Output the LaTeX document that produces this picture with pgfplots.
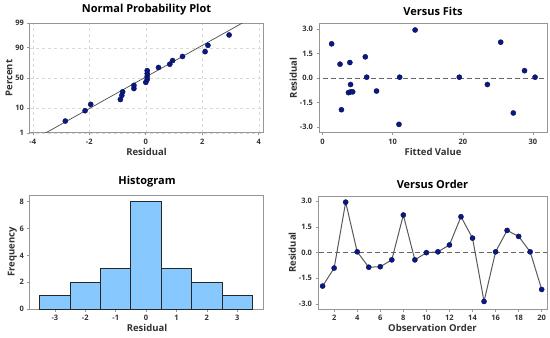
\documentclass[border=0pt]{standalone}
\usepackage{pgfplots}
\pgfplotsset{compat=1.18}
\usepackage{fontspec}
\setmainfont{Open Sans}
\definecolor{frame}{RGB}{150,150,150}
\definecolor{pt}{RGB}{10,25,130}
\definecolor{ptb}{RGB}{0,10,80}
\definecolor{hist}{RGB}{135,200,255}
\definecolor{txt}{RGB}{50,50,50}
\pgfplotsset{
  mini/.style={
    scale only axis,
    axis line style={frame, line width=1pt},
    tick align=outside,
    major tick length=2.5pt,
    tick style={frame, line width=0.6pt},
    xtick pos=bottom, ytick pos=left,
    tick label style={font=\fontsize{7.5}{8}\selectfont\bfseries, text=txt},
    label style={font=\fontsize{9.5}{11}\selectfont\bfseries, text=txt},
    title style={font=\fontsize{11}{12}\selectfont\bfseries, text=black, yshift=-2pt},
    /pgf/number format/assume math mode=true,
    clip=true,
  },
  dots/.style={only marks, mark=*, mark size=2.6pt, mark options={fill=pt, draw=ptb, line width=0.3pt}},
}
\begin{document}
\begin{tikzpicture}
% Normal probability plot
\begin{axis}[mini, at={(30pt,205pt)}, anchor=south west, width=233pt, height=110pt,
  title={Normal Probability Plot}, xlabel={Residual}, ylabel={Percent},
  xmin=-4.1, xmax=4.15, ymin=-2.3263, ymax=2.3263,
  xtick={-4,-2,0,2,4},
  ytick={-2.3263,-1.2816,0,1.2816,2.3263}, yticklabels={1,10,50,90,99},
  grid=major, major grid style={dash pattern=on 3pt off 3pt, gray!30},
  xlabel style={yshift=3pt}, ylabel style={yshift=-4pt}]
\addplot[black!70, line width=0.7pt] coordinates {(-3.55,-2.3263) (3.42,2.3263)};
\addplot[dots] coordinates {
(-2.85,-1.820) (-2.15,-1.383) (-1.95,-1.115) (-0.9,-0.910) (-0.85,-0.737)
(-0.82,-0.584) (-0.42,-0.445) (-0.42,-0.312) (0.0,-0.185) (0.05,-0.061)
(0.05,0.061) (0.05,0.185) (0.05,0.312) (0.45,0.445) (0.85,0.584)
(0.95,0.737) (1.3,0.910) (2.1,1.115) (2.2,1.383) (2.95,1.820)};
\end{axis}
% Versus fits
\begin{axis}[mini, at={(319pt,205pt)}, anchor=south west, width=228pt, height=110pt,
  title={Versus Fits}, xlabel={Fitted Value}, ylabel={Residual},
  xmin=-0.5, xmax=32, ymin=-3.38, ymax=3.38,
  xtick={0,10,20,30}, ytick={-3,-1.5,0,1.5,3},
  yticklabel style={/pgf/number format/.cd, fixed, fixed zerofill, precision=1},
  xlabel style={yshift=3pt}, ylabel style={yshift=-4pt}]
\addplot[gray!80!black, line width=1pt, dash pattern=on 5pt off 3pt] coordinates {(-1,0) (33,0)};
\addplot[dots] coordinates {
(1.3,2.1) (2.5,0.85) (2.7,-1.95) (3.9,0.95) (4.0,-0.4) (3.7,-0.9) (4.0,-0.85)
(4.3,-0.85) (6.1,1.3) (6.3,0.05) (7.7,-0.8) (10.9,-2.85) (11.0,0.05)
(13.2,2.95) (19.5,0.05) (23.5,-0.4) (25.4,2.2) (27.2,-2.15) (28.8,0.45) (30.3,0.05)};
\end{axis}
% Histogram
\begin{axis}[mini, at={(30pt,29pt)}, anchor=south west, width=234pt, height=114pt,
  title={Histogram}, xlabel={Residual}, ylabel={Frequency},
  xmin=-3.82, xmax=3.88, ymin=0, ymax=8.5,
  xtick={-3,-2,-1,0,1,2,3}, ytick={0,2,4,6,8},
  xlabel style={yshift=3pt}, ylabel style={yshift=-4pt}]
\addplot[ybar interval, fill=hist, draw=black!85, line width=0.8pt] coordinates {
(-3.5,1) (-2.5,2) (-1.5,3) (-0.5,8) (0.5,3) (1.5,2) (2.5,1) (3.5,1)};
\end{axis}
% Versus order
\begin{axis}[mini, at={(318pt,29pt)}, anchor=south west, width=229pt, height=113pt,
  title={Versus Order}, xlabel={Observation Order}, ylabel={Residual},
  xmin=0.6, xmax=20.46, ymin=-3.29, ymax=3.31,
  xtick={2,4,...,20}, ytick={-3,-1.5,0,1.5,3},
  yticklabel style={/pgf/number format/.cd, fixed, fixed zerofill, precision=1},
  xlabel style={yshift=3pt}, ylabel style={yshift=-4pt}]
\addplot[gray!80!black, line width=1pt, dash pattern=on 5pt off 3pt] coordinates {(0,0) (21,0)};
\addplot[black!65, line width=1pt, mark=*, mark size=2.6pt, mark options={fill=pt, draw=ptb, line width=0.3pt}] coordinates {
(1,-1.95) (2,-0.9) (3,2.95) (4,0.05) (5,-0.85) (6,-0.82) (7,-0.42) (8,2.2)
(9,-0.42) (10,0.0) (11,0.05) (12,0.45) (13,2.1) (14,0.85) (15,-2.85)
(16,0.05) (17,1.3) (18,0.95) (19,0.05) (20,-2.15)};
\end{axis}
\pgfresetboundingbox
\path (0pt,0pt) rectangle (550pt,338pt);
\end{tikzpicture}
\end{document}
